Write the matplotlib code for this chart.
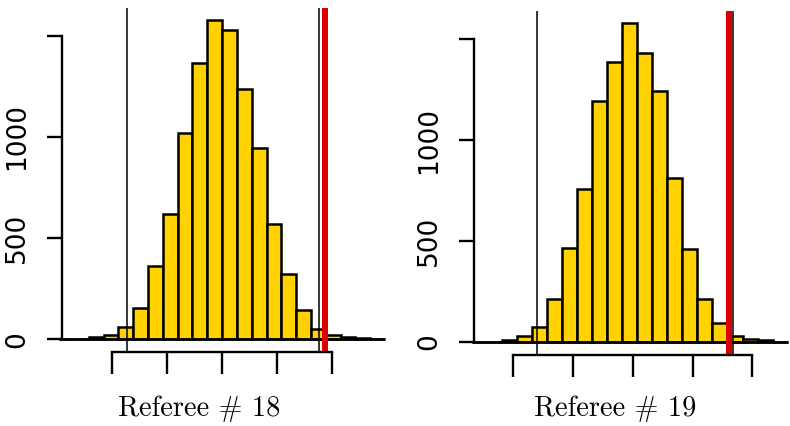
import numpy as np
import matplotlib
matplotlib.use("Agg")
import matplotlib.pyplot as plt

# simulated null distributions for two referees (counts per bin)
ref18_counts = [0, 2, 12, 22, 59, 152, 363, 620, 1018, 1366, 1576, 1530,
                1236, 945, 569, 322, 145, 50, 21, 12, 6, 1]
ref18_bin_start = 0.0566
ref18_bin_width = 0.0404
ref18_xticks = [0.2, 0.35, 0.5, 0.65, 0.8]
ref18_quantiles = [0.2409, 0.7653]
ref18_observed = 0.7809
ref18_yaxis_at = 0.0645

ref19_counts = [1, 0, 10, 30, 74, 212, 465, 759, 1195, 1386, 1579, 1433,
                1242, 813, 460, 213, 93, 28, 16, 8, 2]
ref19_bin_start = 0.0601
ref19_bin_width = 0.0504
ref19_xticks = [0.2, 0.4, 0.6, 0.8, 1.0]
ref19_quantiles = [0.2783, 0.9344]
ref19_observed = 0.9233
ref19_yaxis_at = 0.0685

yticks = [0, 500, 1000, 1500]
ytick_labels = ['0', '500', '1000', '']
labels = ['Referee # 18', 'Referee # 19']

W, H = 790, 426
fig = plt.figure(figsize=(W / 100, H / 100), dpi=100)


def panel(box, counts, start, width, xticks, quantiles, observed, yaxis_at, label, label_x):
    x0, x1, y0, y1 = box
    ax = fig.add_axes([x0 / W, 1 - y1 / H, (x1 - x0) / W, (y1 - y0) / H])
    edges = start + width * np.arange(len(counts) + 1)
    ax.bar(edges[:-1], counts, width=width, align='edge', color='#FFD200',
           edgecolor='black', linewidth=1.8)
    # empty bins still show up as a flat line, like R's hist()
    ax.hlines(0, edges[0], edges[-1], color='black', linewidth=1.8)

    # R style limits: 4% padding on every side
    span = edges[-1] - edges[0]
    ax.set_xlim(edges[0] - 0.04 * span, edges[-1] + 0.04 * span)
    top = max(counts)
    ax.set_ylim(-0.04 * top, 1.04 * top)

    for q in quantiles:
        ax.axvline(q, color='black', linewidth=1.1)
    ax.axvline(observed, color='#DD0000', linewidth=4.3)

    for side in ['top', 'right']:
        ax.spines[side].set_visible(False)
    ax.spines['left'].set_position(('data', yaxis_at))
    ax.spines['left'].set_bounds(yticks[0], yticks[-1])
    ax.spines['bottom'].set_bounds(xticks[0], xticks[-1])
    for side in ['left', 'bottom']:
        ax.spines[side].set_linewidth(1.7)

    ax.set_xticks(xticks)
    ax.set_xticklabels([])
    ax.tick_params(axis='x', direction='out', length=15.8, width=1.7)
    ax.set_yticks(yticks)
    ax.set_yticklabels(ytick_labels, fontsize=19, family='DejaVu Sans')
    ax.tick_params(axis='y', direction='out', length=10.5, width=1.7,
                   pad=12.5, labelrotation=90)
    for lbl in ax.get_yticklabels():
        lbl.set_va('center')

    fig.text(label_x / W, 10 / H, label, ha='center', va='baseline',
             fontsize=20.5, family='cmr10')
    return ax


panel((46.1, 398.1, 7.6, 352.0), ref18_counts, ref18_bin_start, ref18_bin_width,
      ref18_xticks, ref18_quantiles, ref18_observed, ref18_yaxis_at, labels[0], 199)
panel((458.9, 800.4, 10.6, 354.75), ref19_counts, ref19_bin_start, ref19_bin_width,
      ref19_xticks, ref19_quantiles, ref19_observed, ref19_yaxis_at, labels[1], 614.7)

fig.savefig('out.png', dpi=100)
